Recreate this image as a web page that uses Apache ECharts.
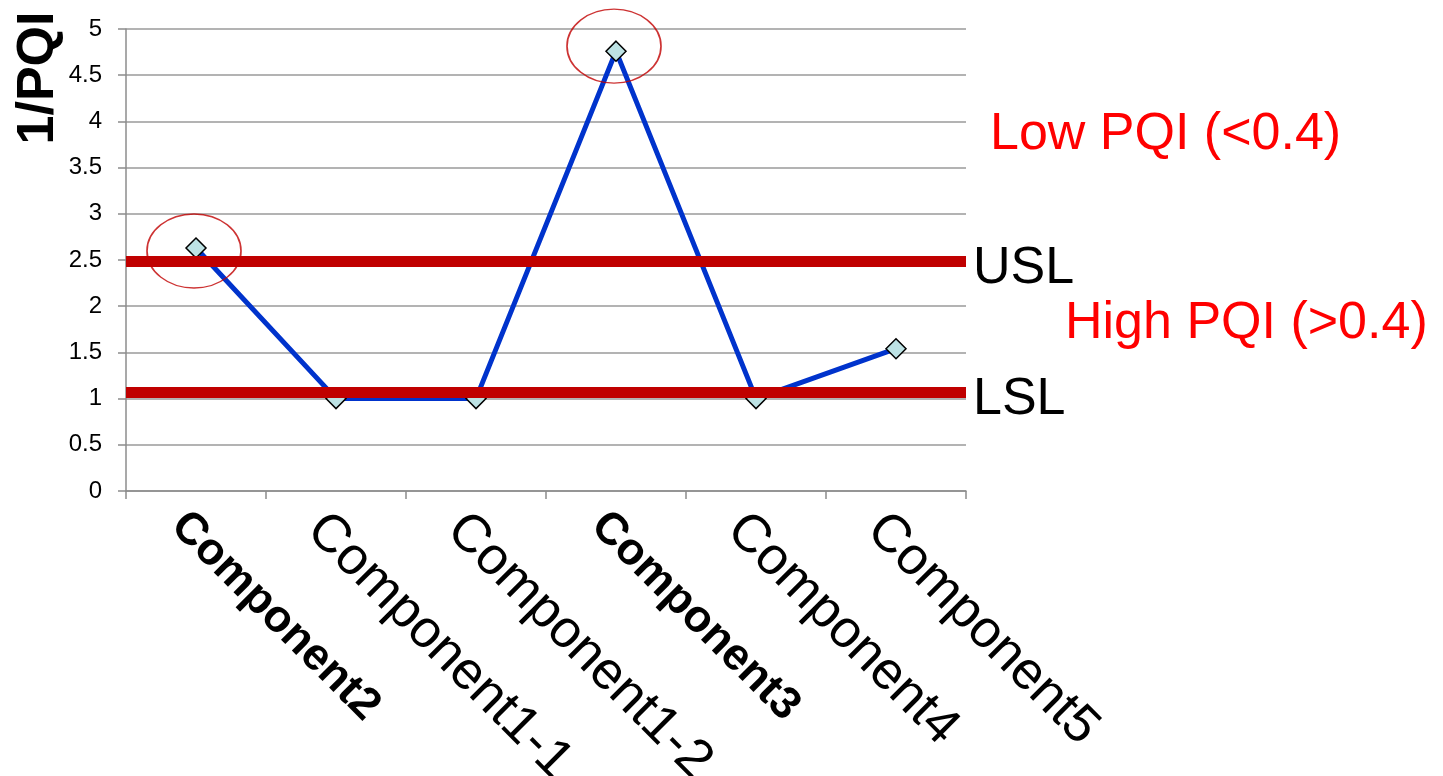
<!DOCTYPE html>
<html>
<head>
<meta charset="utf-8">
<script src="https://cdn.jsdelivr.net/npm/echarts@6/dist/echarts.min.js"></script>
<style>
  html, body { margin: 0; padding: 0; background: #fff; }
  #chart { width: 1443px; height: 776px; }
</style>
</head>
<body>
<div id="chart"></div>
<script>
// Components along the x axis and their 1/PQI values
const categories = ['Component2', 'Component1-1', 'Component1-2', 'Component3', 'Component4', 'Component5'];
const inversePQI = [2.63, 1.0, 1.0, 4.76, 1.0, 1.54];

// Components flagged as out of spec (circled, bold label)
const highlighted = ['Component2', 'Component3'];

// Specification limits
const specLimits = [
  { name: 'USL', value: 2.49 },
  { name: 'LSL', value: 1.075 }
];

// Value axis range
const yMin = 0;
const yMax = 5;
const yStep = 0.5;

const FONT = '"Liberation Sans", Arial, Helvetica, sans-serif';

const chart = echarts.init(document.getElementById('chart'), null, { renderer: 'canvas' });

const circledPoints = highlighted.map(function (c) {
  const i = categories.indexOf(c);
  return { value: [c, inversePQI[i]], symbolOffset: i === 3 ? [-2, -5] : [-2, 3] };
});

chart.setOption({
  animation: false,
  backgroundColor: '#ffffff',
  grid: { left: 126, right: 477, top: 29, bottom: 285, containLabel: false, outerBoundsMode: 'none' },
  xAxis: {
    type: 'category',
    data: categories,
    boundaryGap: true,
    axisLine: { show: true, lineStyle: { color: '#8c8c8c', width: 1.5 } },
    axisTick: { show: true, length: 8, alignWithLabel: false, lineStyle: { color: '#8c8c8c', width: 1.5 } },
    splitLine: { show: false },
    axisLabel: {
      interval: 0,
      rotate: -45,
      margin: 10,
      verticalAlign: 'top',
      padding: [3, 0, 0, 0],
      color: '#000',
      fontFamily: FONT,
      formatter: function (v) {
        return highlighted.indexOf(v) >= 0 ? '{b|' + v + '}' : '{r|' + v + '}';
      },
      rich: {
        b: { fontSize: 45, fontWeight: 'bold', fontFamily: FONT, color: '#000' },
        r: { fontSize: 53, fontFamily: FONT, color: '#000' }
      }
    }
  },
  yAxis: {
    type: 'value',
    min: yMin,
    max: yMax,
    interval: yStep,
    axisLine: { show: true, lineStyle: { color: '#8c8c8c', width: 1.5 } },
    axisTick: { show: true, length: 8, lineStyle: { color: '#8c8c8c', width: 1.5 } },
    splitLine: { show: true, lineStyle: { color: '#9a9a9a', width: 1.5 } },
    axisLabel: { color: '#000', fontSize: 24, fontFamily: FONT, margin: 24 }
  },
  graphic: [
    {
      type: 'text', x: 39, y: 78, rotation: Math.PI / 2,
      style: { text: '1/PQI', fontSize: 52, fontWeight: 'bold', fontFamily: FONT, fill: '#000', align: 'center', verticalAlign: 'middle' }
    },
    {
      type: 'text', x: 990, y: 135,
      style: { text: 'Low PQI (<0.4)', fontSize: 52, fontFamily: FONT, fill: '#ff0000', align: 'left', verticalAlign: 'middle' }
    },
    {
      type: 'text', x: 1065, y: 324,
      style: { text: 'High PQI (>0.4)', fontSize: 52, fontFamily: FONT, fill: '#ff0000', align: 'left', verticalAlign: 'middle' }
    }
  ],
  series: [
    {
      name: '1/PQI',
      type: 'line',
      data: inversePQI,
      z: 3,
      symbol: 'diamond',
      symbolSize: 20,
      lineStyle: { color: '#0033cc', width: 5 },
      itemStyle: { color: '#bde2e4', borderColor: '#000', borderWidth: 1.5 },
      markLine: {
        silent: true,
        symbol: ['none', 'none'],
        z: 5,
        lineStyle: { color: '#c00000', width: 11, type: 'solid' },
        label: {
          show: true,
          position: 'end',
          distance: 7,
          // a thin spacer line above the name nudges it just below the limit line
          formatter: '{g| }\n{n|{b}}',
          rich: {
            g: { fontSize: 1, lineHeight: 16 },
            n: { color: '#000', fontSize: 52, lineHeight: 52, fontFamily: FONT }
          }
        },
        data: specLimits.map(function (s) { return { name: s.name, yAxis: s.value }; })
      }
    },
    {
      name: 'circled',
      type: 'scatter',
      data: circledPoints,
      z: 6,
      symbol: 'circle',
      symbolSize: [94, 74],
      itemStyle: { color: 'rgba(0,0,0,0)', borderColor: '#c00000', borderWidth: 1.5 },
      silent: true
    }
  ]
});
</script>
</body>
</html>
